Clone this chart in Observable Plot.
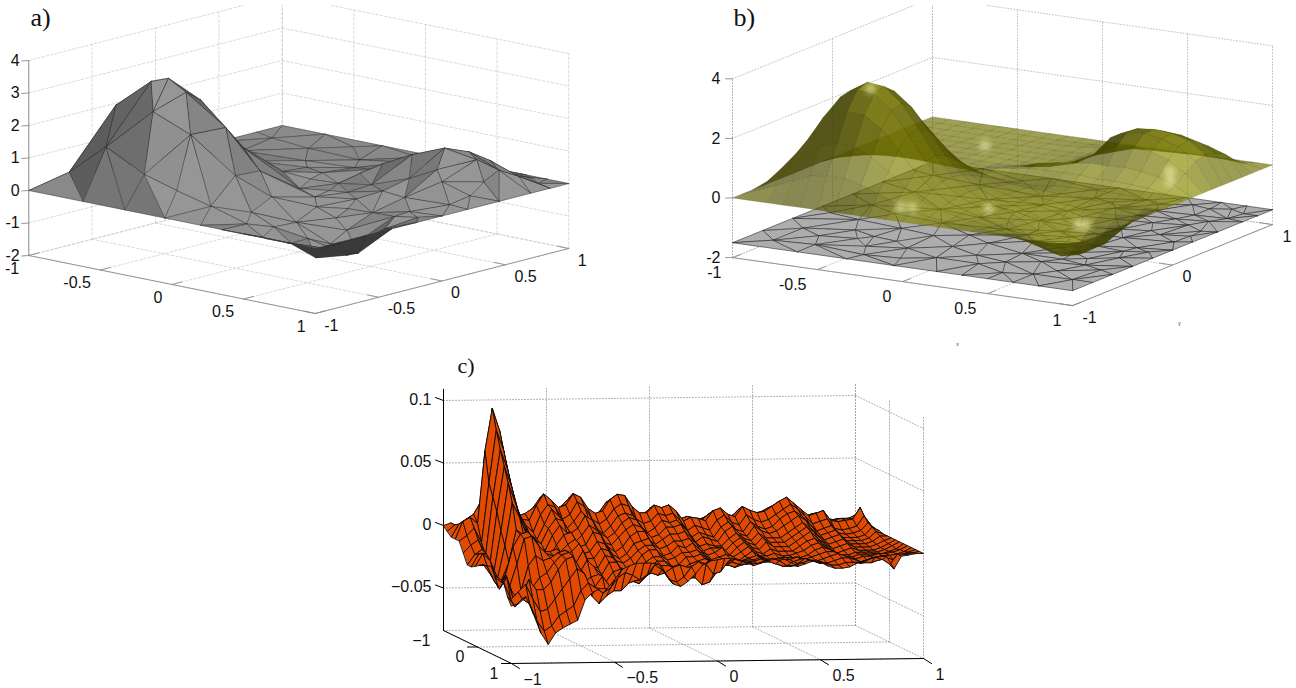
<!DOCTYPE html>
<html><head><meta charset="utf-8">
<script src="https://cdn.jsdelivr.net/npm/d3@7"></script>
<script src="https://cdn.jsdelivr.net/npm/@observablehq/plot@0.6"></script>
<style>html,body{margin:0;padding:0;background:#fff}svg{display:block}</style>
</head><body><div id="chart"></div>
<script>
// ---------- tick values and labels ----------
const abXTicks=[-1,-.5,0,.5,1], abXLabels=["-1","-0.5","0","0.5","1"];
const aYTicks=[-1,-.5,0,.5,1], aYLabels=["-1","-0.5","0","0.5","1"];
const bYTicks=[-1,0,1], bYLabels=["-1","0","1"];
const aZTicks=[-2,-1,0,1,2,3,4], aZLabels=["-2","-1","0","1","2","3","4"];
const bZTicks=[-2,0,2,4], bZLabels=["-2","0","2","4"];
const cXTicks=[-1,-.5,0,.5,1], cXLabels=["\u22121","\u22120.5","0","0.5","1"];
const cYTicks=[-1,0,1], cYLabels=["\u22121","0","1"];
const cZTicks=[-.05,0,.05,.1], cZLabels=["\u22120.05","0","0.05","0.1"];

// ---------- panel a: mesh nodes (panel b floor re-uses x,y) ----------
const aNodeX=[-1,-.62,-.33,-.05,.2,.35,.5,.65,.8,1, 1,1,1,1,1,1,1,1,1,1, .85,.7,.5,.3,.1,-.3,-.7,-1, -1,-1,-1,-1,-1,-1,
-.85,-.85,-.7,-.62,-.6,-.5,-.45,-.38,-.3,-.42,-.7,-.2,-.18,-.1,-.3,0,-.05,-.3,-.6,-.8,-.45,-.75,-.35,-.55,-.2,.05,.12,.2,.05,-.1,-.15,.1,.2,.3,.38,.3,.5,.55,.48,.42,.62,.72,.72,.88,.9,.85,.82,.65,.92,.78,.55,.35,.25,.42,.62,.8,.92,.9,.72,.5,.3,.12,.1,.35,.6,.82,.02,-.4,-.85,-.9,
.18,.3,.5,.45,.2,.6,.62,.4,.65,.78,.8,.7,.48,.68,.85,-.05,-.25,-.05,.22,.45,.72,.92,.92,.93];
const aNodeY=[-1,-1,-1,-1,-1,-1,-1,-1,-1,-1, -.8,-.6,-.4,-.2,0,.2,.45,.7,.85,1, 1,1,1,1,1,1,1,1, .8,.5,.2,-.1,-.4,-.7,
-.85,-.55,-.65,-.82,-.45,-.6,-.52,-.72,-.55,-.3,-.25,-.35,-.65,-.85,-.88,-.5,-.25,-.1,-.05,.05,.15,.4,.45,.7,.1,-.75,-.35,-.6,-.05,.3,.65,.2,.02,-.2,-.45,-.75,-.85,-.55,-.25,-.02,-.12,-.38,-.68,-.8,-.55,-.28,-.05,.1,.15,.25,.25,.18,.38,.42,.45,.5,.42,.72,.7,.68,.62,.45,.75,.85,.88,.9,.92,.88,.75,-.2,
.28,.05,.1,-.12,-.1,-.3,-.45,-.65,-.8,-.5,-.15,.3,.55,.58,.62,.15,.35,.5,.72,.8,.85,.85,-.1,.3];
const aNodeZ=[0,0,0,0,0,0,0,0,0,0, 0,0,0,0,0,0,0,0,0,0, 0,0,0,0,0,0,0,0, 0,0,0,0,0,0,
.55,1.05,2.55,1.5,2.7,3.4,3.46,2.7,3.2,2.6,1.3,2,2.1,.65,1,.85,.7,1.05,.6,.2,.25,.05,.05,0,.2,.2,.15,0,.05,.05,.05,0,.05,-.15,-.3,-.12,-.25,-.55,-.28,.02,-.12,-.75,-.85,-.3,-.68,-.25,.02,.15,.12,.6,.5,.2,.55,.95,1.3,1.05,.55,.4,.75,.7,.45,.2,.1,.15,.2,.12,.01,0,0,.35,
.3,.05,.22,-.15,-.03,-.5,-.75,-.22,-.35,-.9,-.05,.85,.95,1.1,.65,.05,.03,.05,.2,.3,.2,.08,-.02,.25];

// ---------- panel b: z on a 21 x 21 lattice, in hundredths (rows y=-1..1, columns x=-1..1) ----------
const bZ=[
[0,0,0,0,0,0,0,0,0,0,0,0,0,0,0,0,0,0,0,0,0],
[0,21,44,70,92,102,100,86,64,41,23,11,4,0,-5,-12,-18,-23,-21,-14,0],
[0,41,85,136,178,196,193,166,124,79,45,22,8,-1,-11,-26,-41,-52,-47,-31,0],
[0,60,126,201,264,290,285,246,183,117,66,33,12,-3,-19,-43,-69,-86,-77,-52,0],
[0,72,152,241,317,348,341,296,220,140,80,39,15,-3,-24,-56,-90,-112,-100,-67,0],
[0,75,158,251,325,361,354,305,229,146,83,41,16,-3,-24,-56,-90,-112,-100,-67,0],
[0,68,144,228,296,330,325,280,208,133,76,37,14,-2,-18,-43,-69,-86,-77,-52,0],
[0,54,114,181,238,267,262,222,165,105,60,30,12,1,-10,-26,-42,-53,-48,-32,0],
[0,38,79,126,165,186,182,154,115,73,42,21,9,1,-4,-12,-19,-24,-22,-15,0],
[0,23,47,75,99,111,109,92,69,44,25,13,8,6,4,0,-2,-4,-4,-3,0],
[0,12,25,40,50,52,48,36,22,14,6,2,2,10,12,13,14,13,10,6,0],
[0,5,11,15,15,12,8,5,12,22,30,38,40,40,40,34,35,32,27,16,0],
[0,2,5,8,10,11,10,8,6,14,26,42,52,60,66,65,68,62,51,30,0],
[0,1,2,3,4,4,4,3,2,4,8,18,34,62,86,120,125,115,95,58,0],
[0,0,1,2,3,3,3,3,2,2,4,8,24,60,125,150,155,145,125,85,0],
[0,0,1,2,2,2,2,2,1,2,4,8,26,66,125,150,155,150,135,95,0],
[0,0,1,1,1,1,1,1,1,2,4,8,24,50,105,125,135,130,115,85,0],
[0,0,0,0,0,0,0,1,1,1,3,6,16,34,70,85,95,95,88,68,0],
[0,0,0,0,0,0,0,0,1,3,6,11,18,26,36,44,50,52,48,34,0],
[0,0,0,0,0,0,0,0,0,1,2,4,6,9,11,14,16,16,14,10,0],
[0,0,0,0,0,0,0,0,0,0,0,0,0,0,0,0,0,0,0,0,0]];
// bright spots on the surface of panel b (x, y, z)
const bSpotX=[-.47,-.1,-.03,-.45,.75,.75,.84,.79,.23], bSpotY=[-.52,-.85,-.85,.59,.4,.4,-.59,-.59,-.53], bSpotZ=[3.45,.2,.25,.05,.05,.4,0,0,0];

// ---------- panel c: z in thousandths on 18 rows (y=-1..1) of 57 columns (x=-1..1) ----------
const cRow00=[0,2,-2,3,5,8,14,12,6,4, 4,6,8,6,5,6,8,7,5,4, 4,6,7,6,5,3,3,5,4,4, 3,2,2,2,2,3,4,3,2,4, 3,3,3,4,5,5,4,3,2,2, 3,2,1,1,1,1,0];
const cRow01=[-3,2,3,6,12,30,40,24,12,6, 7,10,16,14,9,12,16,14,9,6, 8,12,15,14,9,6,6,10,8,9, 6,3,5,4,3,6,8,5,4,8, 7,6,7,9,11,12,9,6,4,5, 6,3,2,3,3,4,0];
const cRow02=[-6,4,8,12,22,60,70,38,20,10, 12,16,24,22,14,18,24,22,14,10, 12,20,24,22,15,11,10,15,14,14, 10,6,8,6,5,10,12,9,7,13, 11,10,11,14,17,19,15,10,7,9, 10,5,4,5,5,8,0];
const cRow03=[-6,8,11,6,64,98,80,50,24,9, 8,20,29,24,18,20,29,26,17,13, 15,24,28,27,18,13,13,19,17,19, 14,6,9,8,6,14,16,11,9,17, 14,12,13,17,21,24,19,14,9,11, 13,5,4,5,6,15,3];
const cRow04=[-6,-2,4,-8,40,82,66,38,16,6, 0,14,22,20,10,14,24,20,10,6, 10,18,22,20,10,6,8,14,12,14, 8,0,4,2,0,8,12,6,4,12, 8,6,8,12,16,20,16,10,4,6, 8,0,-1,0,2,10,2];
const cRow05=[-14,-8,-4,-16,30,68,52,26,8,0, -4,8,20,14,4,10,18,12,4,0, 6,14,16,14,6,0,4,10,8,10, 4,-4,0,-2,-4,4,8,2,0,8, 4,2,4,10,14,16,12,6,0,2, 4,-2,-3,-2,0,6,1];
const cRow06=[-22,-14,-10,-24,20,56,40,18,6,-2, -6,6,14,12,2,6,16,12,2,-2, 2,10,14,12,4,-2,0,6,6,8, 2,-6,-2,-4,-6,2,6,0,-2,6, 2,0,2,6,10,14,10,4,-2,0, 2,-4,-4,-4,-2,4,1];
const cRow07=[-22,-12,-12,-28,6,44,28,10,2,-8, -10,2,10,4,-4,2,10,6,-4,-6, 0,6,10,8,-2,-6,-2,2,2,4, -2,-8,-6,-8,-8,-2,2,-2,-4,2, -2,-2,-2,2,6,10,6,0,-4,-2, 0,-5,-5,-5,-3,2,0];
const cRow08=[-20,-10,-16,-30,-4,30,18,4,-4,-10, -14,-4,4,6,-6,-4,6,4,-6,-10, -6,2,6,6,-4,-8,-6,-2,-2,0, -4,-10,-8,-8,-10,-4,0,-4,-6,0, -4,-4,-4,0,4,8,4,-2,-6,-4, -2,-6,-6,-6,-4,0,0];
const cRow09=[-18,-18,-26,-30,-16,10,6,-4,-6,-8, -10,-8,-2,2,-10,-8,0,-2,-10,-14, -10,-2,0,2,-8,-12,-10,-4,-6,-2, -8,-12,-10,-6,-12,-6,-2,-6,-8,-2, -6,-6,-6,-2,2,6,0,-4,-8,-6, -4,-7,-7,-7,-5,-2,0];
const cRow10=[-16,-24,-34,-24,-2,8,10,4,-6,-6, -4,-10,-6,0,-12,-12,-4,-6,-14,-16, -12,-6,-2,-2,-10,-14,-12,-8,-8,-6, -10,-14,-12,-10,-12,-8,-4,-8,-10,-6, -8,-8,-8,-4,0,2,-2,-6,-10,-8, -6,-8,-8,-8,-6,-3,0];
const cRow11=[-16,-28,-28,-32,-14,6,8,0,-6,-8, -6,-14,-14,-4,-16,-18,-8,-10,-18,-20, -16,-8,-4,-4,-14,-18,-16,-10,-10,-8, -12,-16,-12,-12,-14,-10,-6,-10,-10,-8, -10,-10,-8,-6,-2,0,-4,-8,-10,-10, -8,-8,-8,-8,-6,-3,0];
const cRow12=[-14,-30,-22,-38,-34,-14,-6,-10,-8,-4, -2,-14,-20,-10,-16,-22,-12,-12,-20,-24, -18,-12,-8,-8,-14,-20,-18,-14,-12,-10, -12,-16,-14,-12,-12,-10,-8,-10,-12,-10, -10,-10,-10,-8,-4,-2,-4,-8,-10,-10, -8,-8,-8,-8,-6,-4,0];
const cRow13=[-22,-26,-32,-38,-34,-30,-22,-18,-10,-4, -2,-14,-26,-22,-20,-26,-18,-16,-22,-26, -20,-14,-10,-10,-14,-20,-20,-18,-16,-10, -12,-14,-14,-12,-10,-10,-8,-10,-12,-10, -10,-8,-10,-8,-6,-4,-4,-8,-10,-10, -8,-8,-6,-6,-5,-3,0];
const cRow14=[-29,-20,-40,-34,-22,-30,-30,-24,-14,-6, -4,-14,-30,-28,-20,-28,-24,-18,-24,-26, -20,-16,-12,-12,-14,-18,-22,-22,-18,-12, -10,-12,-14,-12,-10,-10,-10,-10,-12,-12, -10,-8,-10,-10,-8,-6,-4,-6,-10,-12, -10,-8,-6,-6,-5,-3,0];
const cRow15=[-22,-36,-30,-24,-36,-46,-44,-36,-28,-20, -12,-16,-34,-40,-34,-30,-30,-24,-22,-20, -16,-18,-16,-12,-10,-12,-20,-26,-24,-16, -10,-8,-10,-10,-8,-6,-8,-10,-12,-12, -10,-6,-8,-10,-10,-8,-6,-6,-8,-10, -10,-8,-6,-8,-4,-2,0];
const cRow16=[-32,-40,-34,-38,-52,-60,-56,-48,-44,-40, -28,-22,-26,-30,-26,-18,-14,-16,-20,-16, -8,-12,-20,-22,-18,-10,-6,-8,-16,-14, -6,-4,-6,-8,-8,-6,-4,-6,-10,-10, -8,-6,-6,-8,-10,-10,-8,-8,-8,-6, -4,-6,-10,-2,-2,-1,0];
const cRow17=[-38,-36,-31,-45,-60,-69,-60,-56,-53,-50, -34,-28,-25,-25,-18,-10,-7,-5,-5,-5, -6,-14,-22,-24,-20,-14,-7,-4,-3,-2, -2,-4,-6,-8,-6,-4,-3,-3,-6,-9, -7,-5,-6,-9,-11,-11,-10,-7,-5,-3, -2,-2,-12,-2,-1,0,0];
const cRows=[cRow00,cRow01,cRow02,cRow03,cRow04,cRow05,cRow06,cRow07,cRow08,cRow09,cRow10,cRow11,cRow12,cRow13,cRow14,cRow15,cRow16,cRow17];

// ---------- orthographic views ----------
const view=(ox,oy,xv,yv,zs)=>(x,y,z)=>[ox+xv[0]*x+yv[0]*y, oy+xv[1]*x+yv[1]*y-zs*z];
const Pa=view(298.25,186.5,[143.25,29],[126.75,-32.5],32.5);
const Pb=view(1002,181,[170,24],[100,-40.5],29.8);
const Pc=view(683,539,[206,-2.5],[34,16.5],1250);
const cropTop=5;

let sid=0;
function seg(list,p,q){
  let a=p,b=q;
  if(a[1]<cropTop&&b[1]<cropTop)return;
  const cut=(u,v)=>{const t=(cropTop-u[1])/(v[1]-u[1]);return [u[0]+t*(v[0]-u[0]),cropTop];};
  if(a[1]<cropTop)a=cut(a,b); else if(b[1]<cropTop)b=cut(b,a);
  const id=sid++;
  list.push({id,x:a[0],y:a[1]},{id,x:b[0],y:b[1]});
}
function gridFor(P,xt,yt,zt,zmin,zmax,backY){
  const g=[];
  for(const x of xt) seg(g,P(x,-1,zmin),P(x,1,zmin));
  for(const y of yt) seg(g,P(-1,y,zmin),P(1,y,zmin));
  if(!backY){ // walls x=-1 and y=1
    for(const y of yt) seg(g,P(-1,y,zmin),P(-1,y,zmax));
    for(const x of xt) seg(g,P(x,1,zmin),P(x,1,zmax));
    for(const z of zt){seg(g,P(-1,-1,z),P(-1,1,z));seg(g,P(-1,1,z),P(1,1,z));}
  } else { // walls y=-1 and x=1
    for(const x of xt) seg(g,P(x,-1,zmin),P(x,-1,zmax));
    for(const y of yt) seg(g,P(1,y,zmin),P(1,y,zmax));
    for(const z of zt){seg(g,P(-1,-1,z),P(1,-1,z));seg(g,P(1,-1,z),P(1,1,z));}
  }
  return g;
}
const gridA=gridFor(Pa,abXTicks,aYTicks,aZTicks,-2,4,false);
const gridB=gridFor(Pb,abXTicks,bYTicks,bZTicks,-2,4,false);
const gridC=gridFor(Pc,cXTicks,cYTicks,cZTicks,-.084,.109,true);

function axisSegs(P,axes,ticks){
  const a=[];
  for(const [p,q] of axes) seg(a,P(...p),P(...q));
  for(const [pts,dx,dy] of ticks) for(const p of pts){const s=P(...p);seg(a,s,[s[0]+dx,s[1]+dy]);}
  return a;
}
const axisA=axisSegs(Pa,[[[-1,-1,-2],[1,-1,-2]],[[1,-1,-2],[1,1,-2]],[[-1,-1,-2],[-1,-1,4]]],
 [[abXTicks.map(x=>[x,-1,-2]),10,-2.6],[aYTicks.map(y=>[1,y,-2]),-11,-2.3],[aZTicks.map(z=>[-1,-1,z]),-7,.5]]);
const axisB=axisSegs(Pb,[[[-1,-1,-2],[1,-1,-2]],[[1,-1,-2],[1,1,-2]]],
 [[abXTicks.map(x=>[x,-1,-2]),8,-3],[bYTicks.map(y=>[1,y,-2]),-13,-2],[bZTicks.map(z=>[-1,-1,z]),-7,0]]);
const zAxisB=axisSegs(Pb,[[[-1,-1,-2],[-1,-1,4]]],[]);
const axisC=axisSegs(Pc,[[[-1,1,-.084],[1,1,-.084]],[[-1,-1,-.084],[-1,1,-.084]],[[-1,-1,-.084],[-1,-1,.109]]],
 [[cXTicks.map(x=>[x,1,-.084]),8,5],[cYTicks.slice(1).map(y=>[-1,y,-.084]),-10,0],[cZTicks.map(z=>[-1,-1,z]),-8,-3]]);

// ---------- shading ----------
const Light=[.553,-.352,.754], zk=.35;
function lit(d1,d2){
  let n=[d1[1]*d2[2]*zk-d1[2]*zk*d2[1], d1[2]*zk*d2[0]-d1[0]*d2[2]*zk, d1[0]*d2[1]-d1[1]*d2[0]];
  if(n[2]<0)n=n.map(v=>-v);
  const m=Math.hypot(...n)||1;
  return (n[0]*Light[0]+n[1]*Light[1]+n[2]*Light[2])/m;
}
const area2=(p,q,r)=>(q[0]-p[0])*(r[1]-p[1])-(q[1]-p[1])*(r[0]-p[0]);

// triangulated surfaces (a and floor of b)
const tri=d3.Delaunay.from(aNodeX.map((x,i)=>[x,aNodeY[i]])).triangles;
function triRows(P,zOf,colour){
  const out=[];
  for(let t=0;t<tri.length;t+=3){
    const ids=[tri[t],tri[t+1],tri[t+2]];
    const d=ids.map(i=>[aNodeX[i],aNodeY[i],zOf(i)]);
    const s=d.map(p=>P(...p));
    const flat=d.map(p=>P(p[0],p[1],0));
    const back=area2(...s)*area2(...flat)<0;
    const d1=[d[1][0]-d[0][0],d[1][1]-d[0][1],d[1][2]-d[0][2]];
    const d2=[d[2][0]-d[0][0],d[2][1]-d[0][1],d[2][2]-d[0][2]];
    const depth=d3.mean(flat,p=>p[1]);
    out.push({depth,pts:s,fill:colour(lit(d1,d2),back)});
  }
  out.sort((a,b)=>a.depth-b.depth);
  return out.flatMap((f,id)=>f.pts.map(p=>({id,x:p[0],y:p[1],fill:f.fill})));
}
const grayOf=(l,back)=>{const v=back?58:Math.max(72,Math.min(150,50+118*l));return `rgb(${v},${v},${v})`;};
const surfA=triRows(Pa,i=>aNodeZ[i],grayOf);
const floorB=triRows(Pb,()=>-1.5,()=>"#adadad");

// lattice surfaces
function latticeRows(P,rows,scale,colour,nx,ny){
  const out=[];
  const X=i=>-1+2*i/(nx-1), Y=j=>-1+2*j/(ny-1);
  for(let j=0;j<ny-1;j++)for(let i=0;i<nx-1;i++){
    const c=[[i,j],[i+1,j],[i+1,j+1],[i,j+1]].map(([a,b])=>[X(a),Y(b),rows[b][a]*scale]);
    const s=c.map(p=>P(...p));
    const flat=c.map(p=>P(p[0],p[1],0));
    const back=area2(s[0],s[1],s[2])*area2(flat[0],flat[1],flat[2])<0;
    const d1=[c[2][0]-c[0][0],c[2][1]-c[0][1],c[2][2]-c[0][2]];
    const d2=[c[3][0]-c[1][0],c[3][1]-c[1][1],c[3][2]-c[1][2]];
    out.push({depth:d3.mean(flat,p=>p[1]),pts:s,fill:colour(lit(d1,d2),back)});
  }
  out.sort((a,b)=>a.depth-b.depth);
  return out.flatMap((f,id)=>f.pts.map(p=>({id,x:p[0],y:p[1],fill:f.fill})));
}
const oliveOf=(l,back)=>{const k=Math.max(.62,Math.min(1.25,.1+1.2*l))*(back?.85:1);return `rgb(${112*k},${112*k},${4*k})`;};
const surfB=latticeRows(Pb,bZ,.01,oliveOf,21,21);
const surfC=latticeRows(Pc,cRows,.001,()=>"#e24a02",57,18);
const spotsB=bSpotX.map((x,i)=>{const p=Pb(x,bSpotY[i],bSpotZ[i]);return {x:p[0],y:p[1]};});

// ---------- text ----------
const tl=(P,vals,labels,f)=>vals.map((v,i)=>{const p=P(...f(v));return {x:p[0],y:p[1],t:labels[i]};});
const sans={fontFamily:"Liberation Sans, Helvetica, Arial, sans-serif",fontSize:16,fill:"#111"};
const txt=(rows,anchor,dx,dy)=>Plot.text(rows,{x:"x",y:"y",text:"t",textAnchor:anchor,dx,dy,...sans});
const poly=(rows,o)=>Plot.line(rows,{x:"x",y:"y",z:"id",curve:"linear-closed",fill:"fill",...o});
const lines=(rows,o)=>Plot.line(rows,{x:"x",y:"y",z:"id",...o});
const serif={fontFamily:"Liberation Serif, Times New Roman, serif",fill:"#111",textAnchor:"start"};

const chart=Plot.plot({
  width:1296,height:688,margin:0,
  x:{domain:[0,1296],range:[0,1296],axis:null},
  y:{domain:[0,688],range:[0,688],axis:null},
  color:{type:"identity"},
  style:{background:"#fff"},
  marks:[
    // panel a
    lines(gridA,{stroke:"#c8c8c8",strokeWidth:.7,strokeDasharray:"2.5,2"}),
    lines(axisA,{stroke:"#8c8c8c",strokeWidth:.9}),
    poly(surfA,{stroke:"#2e2e2e",strokeWidth:.5}),
    txt(tl(Pa,abXTicks,abXLabels,x=>[x,-1,-2]),"end",-9.5,13),
    txt(tl(Pa,aYTicks,aYLabels,y=>[1,y,-2]),"start",9,12),
    txt(tl(Pa,aZTicks,aZLabels,z=>[-1,-1,z]),"end",-9,0),
    Plot.text(["a)"],{x:()=>30,y:()=>17,text:d=>d,fontSize:26,...serif}),
    // panel b
    lines(gridB,{stroke:"#b4b4b4",strokeWidth:.8,strokeDasharray:"1,2"}),
    lines(zAxisB,{stroke:"#aaaaaa",strokeWidth:.8,strokeDasharray:"1,2"}),
    lines(axisB,{stroke:"#8c8c8c",strokeWidth:.9}),
    poly(floorB,{stroke:"#2a2a2a",strokeWidth:.6}),
    poly(surfB,{fillOpacity:.68,stroke:"#4a4a00",strokeWidth:.3,strokeOpacity:.5}),
    Plot.dot(spotsB,{x:"x",y:"y",r:5,fill:"#f4f4b8",fillOpacity:.7,imageFilter:"blur(3px)"}),
    txt(tl(Pb,abXTicks,abXLabels,x=>[x,-1,-2]),"end",-11,15),
    txt(tl(Pb,bYTicks,bYLabels,y=>[1,y,-2]),"start",10,12),
    txt(tl(Pb,bZTicks,bZLabels,z=>[-1,-1,z]),"end",-12,0),
    Plot.text(["b)"],{x:()=>733,y:()=>17,text:d=>d,fontSize:26,...serif}),
    Plot.text(tl(Pb,[0],["x"],x=>[x,-1,-2]),{x:"x",y:"y",text:"t",dx:55,dy:63,fontSize:5,fill:"#333",fontFamily:sans.fontFamily}),
    Plot.text(tl(Pb,[0],["y"],y=>[1,y,-2]),{x:"x",y:"y",text:"t",dx:7,dy:58,fontSize:5,fill:"#333",fontFamily:sans.fontFamily}),
    // panel c
    lines(gridC,{stroke:"#a0a0a0",strokeWidth:.9,strokeDasharray:"1,2"}),
    lines(axisC,{stroke:"#000",strokeWidth:1}),
    poly(surfC,{stroke:"#0a0a0a",strokeWidth:.9}),
    txt(tl(Pc,cXTicks,cXLabels,x=>[x,1,-.084]),"start",12,16),
    txt(tl(Pc,cYTicks,cYLabels,y=>[-1,y,-.084]),"end",-13,10),
    txt(tl(Pc,cZTicks,cZLabels,z=>[-1,-1,z]),"end",-12,-1),
    Plot.text(["c)"],{x:()=>457,y:()=>365,text:d=>d,fontSize:22,...serif})
  ]
});
document.getElementById("chart").appendChild(chart);
</script></body></html>
